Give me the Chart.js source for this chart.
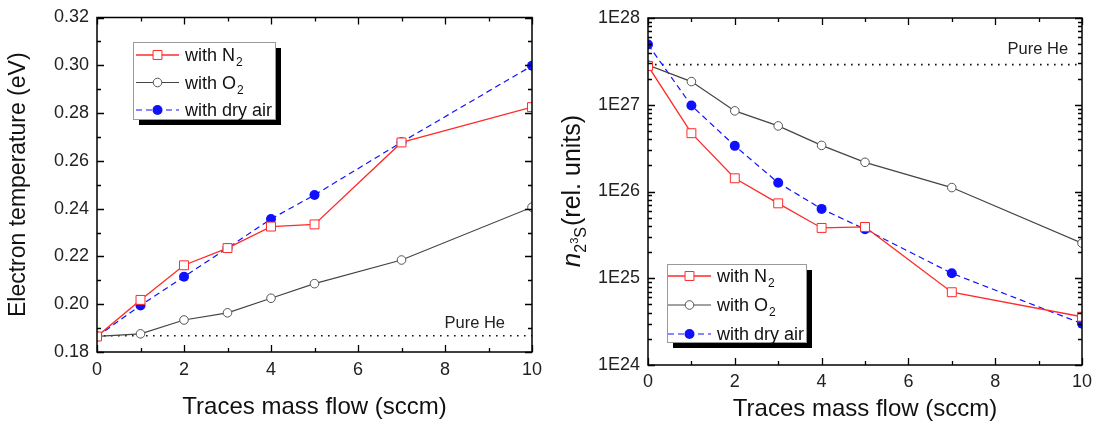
<!DOCTYPE html>
<html>
<head>
<meta charset="utf-8">
<script src="https://cdn.jsdelivr.net/npm/chart.js@4.4.1/dist/chart.umd.min.js"></script>
<style>
  body { margin: 0; background: #fff; }
  .panel { position: absolute; top: 0; height: 425px; }
</style>
</head>
<body>
<div class="panel" style="left:0;width:550px"><canvas id="tempChart"></canvas></div>
<div class="panel" style="left:550px;width:552px"><canvas id="densChart"></canvas></div>
<script>
// --- data ---
const flow = [0, 1, 2, 3, 4, 5, 7, 10];
const flowTicks = [0, 2, 4, 6, 8, 10];

// left panel: electron temperature (eV)
const tempN2 = [0.1865, 0.2018, 0.2163, 0.2235, 0.2325, 0.2334, 0.2677, 0.2825];
const tempO2 = [0.1865, 0.1876, 0.1934, 0.1964, 0.2025, 0.2086, 0.2185, 0.2406];
const tempAir = [0.1865, 0.1995, 0.2115, 0.2235, 0.2357, 0.2457, 0.2678, 0.2998];
const tempPureHe = 0.1868;
const tempTicks = [0.18, 0.20, 0.22, 0.24, 0.26, 0.28, 0.30, 0.32];

// right panel: n(2 3S) density (rel. units)
const densN2 = [2.8e27, 4.7e26, 1.42e26, 7.3e25, 3.8e25, 3.9e25, 6.9e24, 3.6e24];
const densO2 = [2.87e27, 1.85e27, 8.5e26, 5.7e26, 3.4e26, 2.17e26, 1.11e26, 2.54e25];
const densAir = [4.95e27, 9.8e26, 3.36e26, 1.26e26, 6.3e25, 3.67e25, 1.14e25, 3.0e24];
const densPureHe = 2.9e27;
const densTicks = [1e24, 1e25, 1e26, 1e27, 1e28];
const densTickLabels = ['1E24', '1E25', '1E26', '1E27', '1E28'];

const FONT = "'Liberation Sans', Arial, sans-serif";
const RED = '#ff2a2a', GREY = '#444', BLUE = '#1010ff';

const toXY = (ys) => flow.map((x, i) => ({ x, y: ys[i] }));

function seriesSets(n2, o2, air, pure) {
    return [
        {
            data: toXY(n2), borderColor: RED, borderWidth: 1.3,
            pointStyle: 'rect', pointRadius: 6.3, pointBorderColor: RED,
            pointBackgroundColor: '#fff', pointBorderWidth: 1,
            legendText: ['with N', '2']
        },
        {
            data: toXY(o2), borderColor: GREY, borderWidth: 1.2,
            pointStyle: 'circle', pointRadius: 4.3, pointBorderColor: '#555',
            pointBackgroundColor: '#fff', pointBorderWidth: 1,
            legendText: ['with O', '2']
        },
        {
            data: toXY(air), borderColor: BLUE, borderWidth: 1.2, borderDash: [6, 4],
            pointStyle: 'circle', pointRadius: 5, pointBorderColor: BLUE,
            pointBackgroundColor: BLUE, pointBorderWidth: 0,
            legendText: ['with dry air', '']
        },
        {
            // pure helium reference level
            data: [{ x: flow[0], y: pure }, { x: flow[flow.length - 1], y: pure }],
            borderColor: '#111', borderWidth: 1.6, borderDash: [1.6, 5.4],
            pointRadius: 0
        }
    ];
}

// inward ticks on all four sides + closed frame
const frameTicks = {
    id: 'frameTicks',
    afterDatasetsDraw(chart, args, opts) {
        const { ctx, chartArea: a, scales: { x, y } } = chart;
        ctx.save();
        ctx.strokeStyle = '#000';
        ctx.lineWidth = 1.3;
        ctx.beginPath();
        const xt = (v, len) => {
            const px = Math.round(x.getPixelForValue(v)) + 0.5;
            ctx.moveTo(px, a.bottom); ctx.lineTo(px, a.bottom - len);
            ctx.moveTo(px, a.top); ctx.lineTo(px, a.top + len);
        };
        const yt = (v, len) => {
            const py = Math.round(y.getPixelForValue(v)) + 0.5;
            ctx.moveTo(a.left, py); ctx.lineTo(a.left + len, py);
            ctx.moveTo(a.right, py); ctx.lineTo(a.right - len, py);
        };
        flowTicks.forEach((v, i) => {
            xt(v, 7);
            if (i < flowTicks.length - 1) xt((v + flowTicks[i + 1]) / 2, 4);
        });
        opts.yMajor.forEach((v, i) => {
            yt(v, 7);
            if (i < opts.yMajor.length - 1) {
                if (opts.log) {
                    for (let k = 2; k <= 9; k++) yt(v * k, 4);
                } else {
                    yt((v + opts.yMajor[i + 1]) / 2, 4);
                }
            }
        });
        ctx.stroke();
        ctx.lineWidth = 1.5;
        ctx.strokeRect(a.left, a.top, a.right - a.left, a.bottom - a.top);

        // "Pure He" note
        ctx.fillStyle = '#222';
        ctx.font = '16.5px ' + FONT;
        ctx.textAlign = 'right';
        ctx.textBaseline = 'middle';
        ctx.fillText('Pure He', x.getPixelForValue(opts.noteX), y.getPixelForValue(opts.noteY));
        ctx.restore();
    }
};

// boxed legend with drop shadow and subscripts
const boxLegend = {
    id: 'boxLegend',
    afterDraw(chart, args, opts) {
        const ctx = chart.ctx, a = chart.chartArea;
        const x0 = a.left + opts.left, y0 = a.top + opts.top;
        ctx.save();
        ctx.fillStyle = '#000';
        ctx.fillRect(x0 + 6, y0 + 6, opts.width, opts.height);
        ctx.fillStyle = '#fff';
        ctx.fillRect(x0, y0, opts.width, opts.height);
        ctx.strokeStyle = '#9a9a9a';
        ctx.lineWidth = 1;
        ctx.strokeRect(x0 + 0.5, y0 + 0.5, opts.width, opts.height);
        let row = 0;
        chart.data.datasets.forEach((ds) => {
            if (!ds.legendText) return;
            const cy = y0 + opts.firstRow + row * opts.rowGap;
            row++;
            ctx.strokeStyle = ds.borderColor;
            ctx.lineWidth = ds.borderWidth;
            ctx.setLineDash(ds.borderDash || []);
            ctx.beginPath();
            ctx.moveTo(x0 + opts.lineStart, cy);
            ctx.lineTo(x0 + opts.lineEnd, cy);
            ctx.stroke();
            ctx.setLineDash([]);
            const mx = x0 + (opts.lineStart + opts.lineEnd) / 2;
            const r = ds.pointRadius;
            ctx.beginPath();
            if (ds.pointStyle === 'rect') {
                const s = r * Math.SQRT1_2;
                ctx.rect(mx - s, cy - s, 2 * s, 2 * s);
            } else {
                ctx.arc(mx, cy, r, 0, Math.PI * 2);
            }
            ctx.fillStyle = ds.pointBackgroundColor;
            ctx.fill();
            if (ds.pointBorderWidth) {
                ctx.strokeStyle = ds.pointBorderColor;
                ctx.lineWidth = ds.pointBorderWidth;
                ctx.stroke();
            }
            ctx.fillStyle = '#111';
            ctx.textBaseline = 'alphabetic';
            ctx.font = '18px ' + FONT;
            const tx = x0 + opts.textStart, base = cy + 6;
            ctx.fillText(ds.legendText[0], tx, base);
            const w = ctx.measureText(ds.legendText[0]).width;
            ctx.font = '12px ' + FONT;
            ctx.fillText(ds.legendText[1], tx + w + 1, base + 5);
        });
        ctx.restore();
    }
};

// rotated y title with nested sub/superscripts
const densTitle = {
    id: 'densTitle',
    afterDraw(chart) {
        const ctx = chart.ctx, a = chart.chartArea;
        const parts = [
            { t: 'n', f: 'italic 26px ' + FONT, dy: 0 },
            { t: '2', f: '16px ' + FONT, dy: 6 },
            { t: '3', f: '11px ' + FONT, dy: -2 },
            { t: 'S', f: '16px ' + FONT, dy: 6 },
            { t: '(rel. units)', f: '25px ' + FONT, dy: 0 }
        ];
        ctx.save();
        let total = 0;
        parts.forEach(p => { ctx.font = p.f; p.w = ctx.measureText(p.t).width; total += p.w; });
        ctx.translate(30, (a.top + a.bottom) / 2);
        ctx.rotate(-Math.PI / 2);
        ctx.fillStyle = '#111';
        ctx.textBaseline = 'alphabetic';
        let cx = -total / 2;
        parts.forEach(p => {
            ctx.font = p.f;
            ctx.fillText(p.t, cx, p.dy);
            cx += p.w + (p.t === 'S' ? 1 : 0);
        });
        ctx.restore();
    }
};

function fixSize(w, h) {
    return (scale) => {
        if (w !== null) scale.width = w;
        if (h !== null) scale.height = h;
        scale.paddingTop = 0; scale.paddingBottom = 0;
        scale.paddingLeft = 0; scale.paddingRight = 0;
    };
}

function xAxis(height, pad, titlePad) {
    return {
        type: 'linear', min: 0, max: 10,
        afterBuildTicks: (s) => { s.ticks = flowTicks.map(v => ({ value: v })); },
        ticks: { font: { family: FONT, size: 18 }, color: '#222', padding: pad, maxRotation: 0 },
        grid: { display: false, drawTicks: false },
        border: { display: false },
        title: {
            display: true, text: 'Traces mass flow (sccm)', color: '#111',
            font: { family: FONT, size: 24 }, padding: { top: 0, bottom: titlePad }
        },
        afterFit: fixSize(null, height)
    };
}

// --- left panel ---
new Chart(document.getElementById('tempChart'), {
    type: 'line',
    data: { datasets: seriesSets(tempN2, tempO2, tempAir, tempPureHe) },
    options: {
        responsive: true, maintainAspectRatio: false, animation: false,
        layout: { padding: { top: 17.5, right: 18, left: 0, bottom: 0 } },
        plugins: {
            legend: { display: false }, tooltip: { enabled: false },
            frameTicks: { yMajor: tempTicks, log: false, noteX: 9.38, noteY: 0.1921 },
            boxLegend: { left: 36, top: 24.5, width: 142, height: 77, firstRow: 13, rowGap: 27.5,
                         lineStart: 3, lineEnd: 46, textStart: 52 }
        },
        scales: {
            x: xAxis(73, 7, 3),
            y: {
                type: 'linear', min: 0.18, max: 0.32,
                afterBuildTicks: (s) => { s.ticks = tempTicks.map(v => ({ value: v })); },
                ticks: { font: { family: FONT, size: 18 }, color: '#222', padding: 8,
                         callback: (v) => v.toFixed(2) },
                grid: { display: false, drawTicks: false },
                border: { display: false },
                title: {
                    display: true, text: 'Electron temperature (eV)', color: '#111',
                    font: { family: FONT, size: 23 }, padding: { top: 5, bottom: 0 }
                },
                afterFit: fixSize(97, null)
            }
        }
    },
    plugins: [frameTicks, boxLegend]
});

// --- right panel ---
new Chart(document.getElementById('densChart'), {
    type: 'line',
    data: { datasets: seriesSets(densN2, densO2, densAir, densPureHe) },
    options: {
        responsive: true, maintainAspectRatio: false, animation: false,
        layout: { padding: { top: 18, right: 20, left: 0, bottom: 0 } },
        plugins: {
            legend: { display: false }, tooltip: { enabled: false },
            frameTicks: { yMajor: densTicks, log: true, noteX: 9.68, noteY: 4.3e27 },
            boxLegend: { left: 19, top: 246, width: 139, height: 78, firstRow: 12, rowGap: 29,
                         lineStart: 1, lineEnd: 44, textStart: 50 }
        },
        scales: {
            x: xAxis(60, 6, 1),
            y: {
                type: 'logarithmic', min: 1e24, max: 1e28,
                afterBuildTicks: (s) => { s.ticks = densTicks.map(v => ({ value: v })); },
                ticks: { font: { family: FONT, size: 18 }, color: '#222', padding: 8,
                         callback: (v, i) => densTickLabels[i] },
                grid: { display: false, drawTicks: false },
                border: { display: false },
                title: { display: false },
                afterFit: fixSize(98, null)
            }
        }
    },
    plugins: [frameTicks, boxLegend, densTitle]
});
</script>
</body>
</html>
